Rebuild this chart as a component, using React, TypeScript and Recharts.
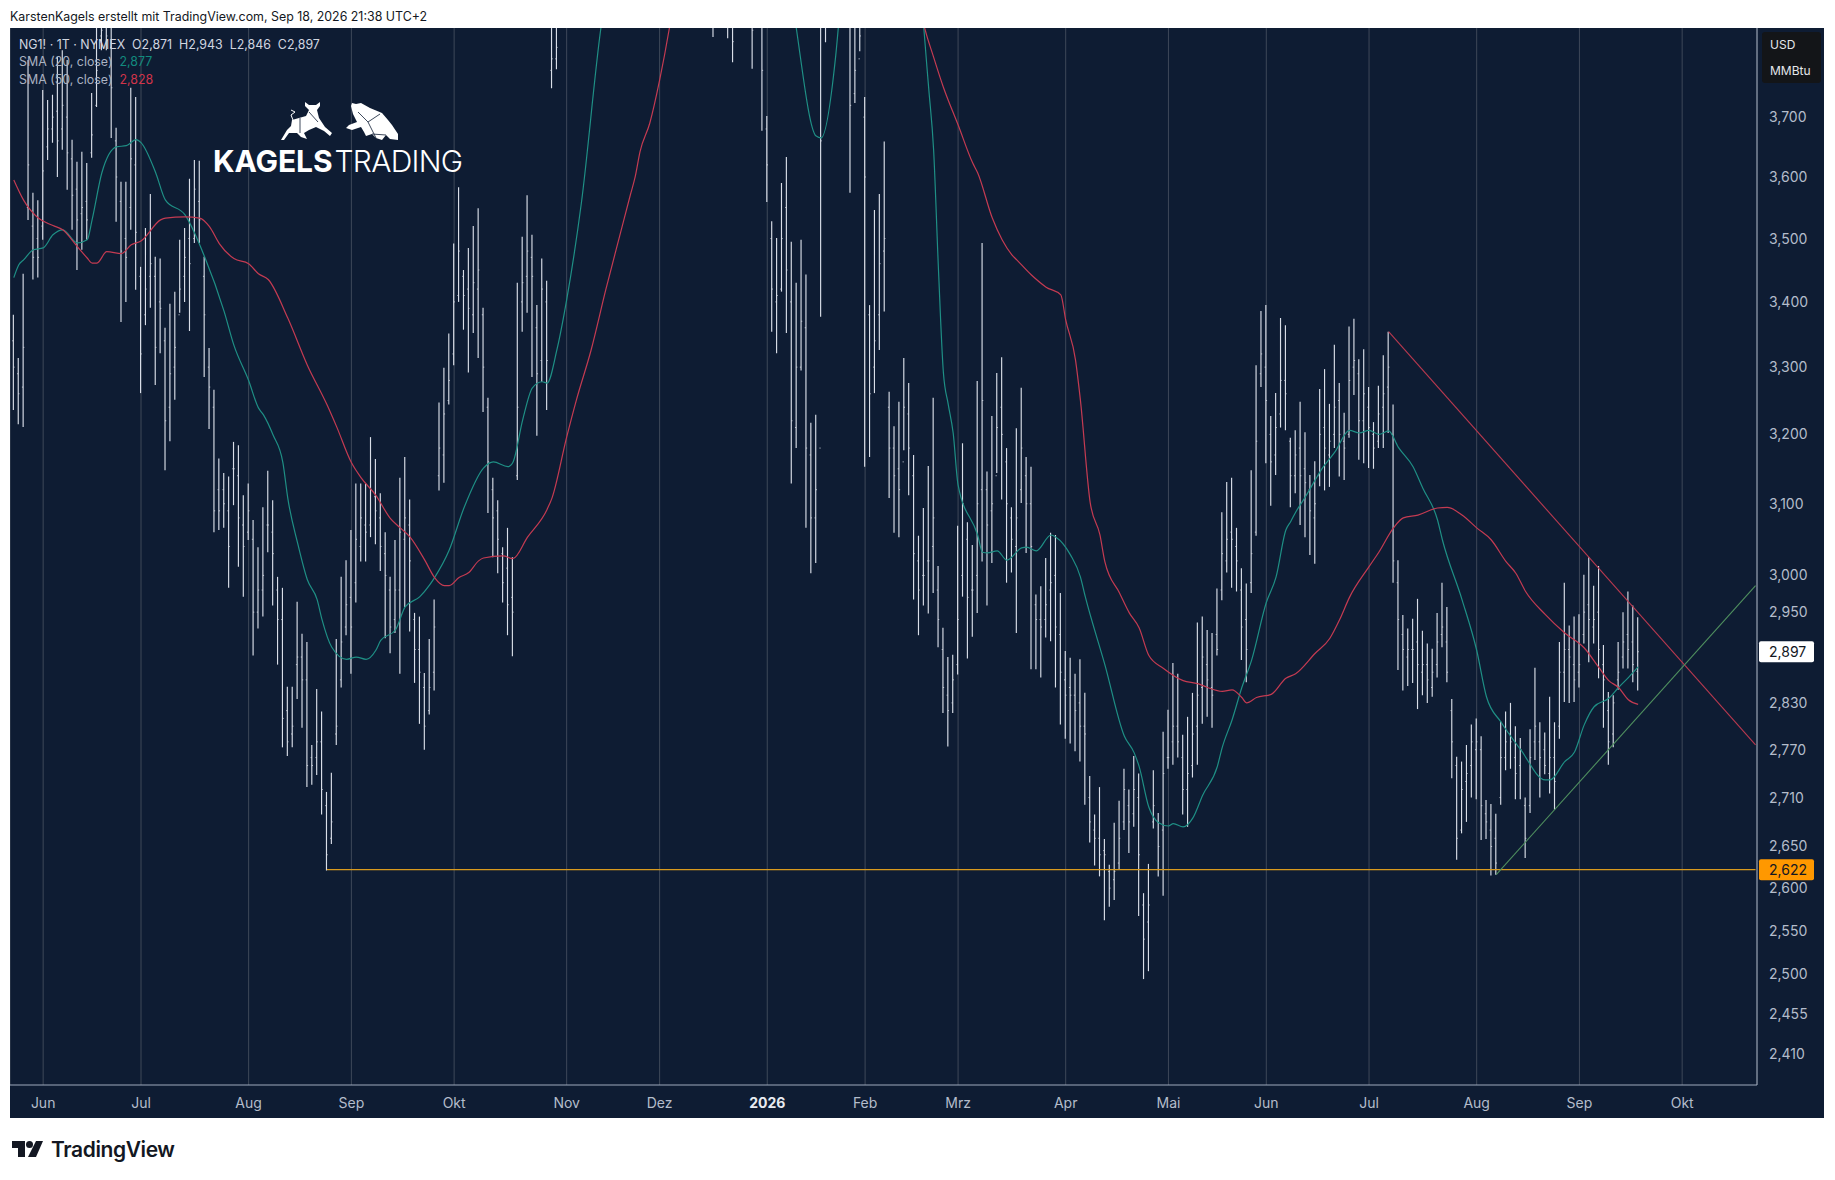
import { Bar, CartesianGrid, ComposedChart, Line, ReferenceLine, XAxis, YAxis } from "recharts";

// daily bars, one entry per session, Jun 2025 .. 18 Sep 2026
const highs = [
  3.38,3.314,3.444,3.798,3.574,3.562,3.746,3.729,3.738,3.803,
  3.815,3.798,3.662,3.625,3.642,3.623,3.741,3.868,3.876,3.885,
  3.868,3.682,3.592,3.592,3.75,3.734,3.455,3.517,3.572,3.471,
  3.468,3.36,3.397,3.416,3.498,3.517,3.597,3.628,3.627,3.471,
  3.329,3.266,3.165,3.144,3.139,3.189,3.184,3.112,3.129,3.077,
  3.039,3.095,3.147,3.105,2.998,2.983,2.851,2.851,2.964,2.921,
  2.91,2.776,2.848,2.819,2.717,2.741,2.914,2.998,3.021,3.063,
  3.129,3.129,3.129,3.196,3.164,3.115,3.06,2.998,3.049,3.137,
  3.167,3.106,2.949,2.944,2.869,2.914,2.967,3.247,3.299,3.351,
  3.492,3.583,3.45,3.485,3.52,3.549,3.391,3.254,3.137,3.105,
  3.039,3.066,3.025,3.43,3.503,3.57,3.506,3.395,3.468,3.433,
  3.868,3.876,3.98,4.02,4.05,4.12,4.16,4.22,4.28,4.26,
  4.34,4.42,4.4,4.48,4.55,4.61,4.58,4.66,4.72,4.78,
  4.85,4.91,4.88,4.96,5.02,4.94,4.86,4.71,4.58,4.42,
  4.3,4.18,4.05,3.876,3.95,3.93,3.88,3.88,3.96,3.98,
  3.95,3.89,3.95,3.9,3.702,3.528,3.501,3.59,3.633,3.495,
  3.43,3.498,3.443,3.217,3.229,3.89,3.9,3.98,3.96,3.94,
  3.93,3.88,3.88,3.88,3.734,3.395,3.546,3.572,3.659,3.263,
  3.212,3.248,3.314,3.276,3.17,3.055,3.094,3.154,3.254,3.013,
  2.929,2.89,2.893,3.069,3.187,3.074,3.042,3.279,3.493,3.146,
  3.227,3.291,3.315,3.18,3.095,3.209,3.269,3.167,3.153,2.974,
  2.985,3.024,3.059,3.056,2.976,2.898,2.889,2.868,2.887,2.843,
  2.737,2.689,2.723,2.659,2.628,2.679,2.706,2.746,2.72,2.762,
  2.74,2.594,2.629,2.744,2.691,2.793,2.821,2.882,2.868,2.789,
  2.812,2.843,2.936,2.944,2.926,2.922,2.982,3.088,3.131,3.137,
  3.066,3.01,2.989,3.148,3.303,3.386,3.395,3.227,3.261,3.375,
  3.364,3.195,3.206,3.248,3.203,3.141,3.161,3.267,3.297,3.245,
  3.334,3.276,3.232,3.362,3.374,3.312,3.327,3.27,3.218,3.272,
  3.318,3.354,3.244,3.021,2.946,2.928,2.941,2.968,2.925,2.908,
  2.901,2.949,2.99,2.957,2.835,2.761,2.755,2.776,2.802,2.81,
  2.787,2.707,2.702,2.69,2.806,2.819,2.83,2.8,2.785,2.71,
  2.796,2.876,2.805,2.792,2.838,2.805,2.91,2.99,2.932,2.944,
  2.947,3.001,3.025,2.986,3.013,2.906,2.844,2.84,2.91,2.95,
  2.978,2.959,2.943,
];
const lows = [
  3.236,3.215,3.211,3.53,3.435,3.438,3.498,3.628,3.657,3.6,
  3.645,3.579,3.514,3.45,3.482,3.498,3.632,3.717,3.815,3.815,
  3.665,3.527,3.369,3.4,3.514,3.419,3.261,3.364,3.391,3.273,
  3.321,3.148,3.19,3.251,3.383,3.4,3.355,3.493,3.493,3.285,
  3.208,3.06,3.063,3.066,2.983,3.098,3.012,2.971,3.049,2.892,
  2.928,2.944,3.032,2.959,2.88,2.773,2.762,2.773,2.835,2.798,
  2.723,2.726,2.738,2.689,2.621,2.653,2.776,2.85,2.919,2.868,
  2.963,3.019,3.019,3.053,3.043,3.006,2.915,2.895,2.922,2.868,
  2.957,2.924,2.856,2.803,2.77,2.815,2.846,3.119,3.13,3.244,
  3.303,3.4,3.357,3.292,3.352,3.314,3.233,3.087,3.025,3.003,
  2.963,2.919,2.891,3.134,3.354,3.383,3.285,3.198,3.278,3.236,
  3.749,3.782,3.88,3.93,3.96,4.01,4.06,4.12,4.17,4.14,
  4.22,4.3,4.28,4.36,4.42,4.48,4.45,4.52,4.6,4.66,
  4.72,4.78,4.74,4.82,4.85,4.72,4.66,4.5,4.38,4.24,
  4.12,4.0,3.9,3.838,3.87,3.87,3.836,3.794,3.87,3.88,
  3.87,3.783,3.88,3.677,3.559,3.354,3.321,3.416,3.352,3.129,
  3.18,3.295,3.066,3.003,3.017,3.377,3.829,3.88,3.87,3.87,
  3.86,3.574,3.724,3.813,3.153,3.167,3.261,3.326,3.385,3.108,
  3.059,3.053,3.177,3.112,2.967,2.919,2.959,2.948,2.976,2.903,
  2.817,2.774,2.817,2.867,2.971,2.888,2.917,2.949,3.019,2.959,
  3.017,3.144,3.106,2.99,3.004,2.922,3.101,3.031,2.874,2.874,
  2.863,2.916,2.911,2.85,2.802,2.784,2.778,2.768,2.755,2.701,
  2.655,2.627,2.614,2.562,2.578,2.586,2.622,2.67,2.642,2.674,
  2.567,2.494,2.503,2.672,2.614,2.591,2.746,2.751,2.76,2.689,
  2.674,2.735,2.751,2.803,2.812,2.798,2.892,2.966,3.004,2.983,
  2.978,2.886,2.857,2.976,3.055,3.27,3.158,3.097,3.141,3.21,
  3.206,3.095,3.115,3.07,3.053,3.028,3.016,3.125,3.119,3.124,
  3.18,3.139,3.134,3.195,3.258,3.163,3.158,3.151,3.15,3.18,
  3.18,3.202,2.99,2.873,2.846,2.852,2.856,2.822,2.84,2.83,
  2.838,2.863,2.903,2.857,2.734,2.634,2.666,2.68,2.71,2.708,
  2.658,2.659,2.615,2.616,2.701,2.744,2.746,2.708,2.708,2.636,
  2.691,2.757,2.71,2.739,2.715,2.695,2.784,2.831,2.83,2.831,
  2.85,2.908,2.883,2.908,2.862,2.798,2.751,2.773,2.847,2.875,
  2.875,2.857,2.846,
];
const opens = [
  3.34,3.29,3.27,3.55,3.52,3.5,3.52,3.65,3.68,3.71,
  3.68,3.7,3.63,3.58,3.54,3.56,3.64,3.72,3.84,3.86,
  3.82,3.66,3.56,3.5,3.55,3.62,3.44,3.38,3.44,3.44,
  3.4,3.34,3.24,3.3,3.38,3.44,3.5,3.5,3.56,3.44,
  3.3,3.24,3.12,3.12,3.09,3.15,3.14,3.07,3.06,3.05,
  2.95,2.98,3.07,3.06,2.98,2.94,2.82,2.79,2.88,2.89,
  2.86,2.76,2.76,2.78,2.7,2.66,2.79,2.86,2.93,2.97,
  2.99,3.04,3.07,3.07,3.11,3.08,3.03,2.98,2.94,2.98,
  3.05,3.07,2.94,2.9,2.85,2.82,2.87,3.14,3.17,3.25,
  3.32,3.41,3.44,3.42,3.38,3.42,3.38,3.24,3.12,3.09,
  3.03,3.01,2.97,3.14,3.4,3.44,3.47,3.36,3.31,3.4,
  3.78,3.8,3.9,3.94,3.99,4.03,4.09,4.14,4.2,4.22,
  4.24,4.33,4.37,4.38,4.46,4.51,4.54,4.55,4.63,4.7,
  4.76,4.82,4.85,4.86,4.92,4.9,4.78,4.68,4.52,4.4,
  4.26,4.14,4.01,3.87,3.92,3.88,3.87,3.86,3.9,3.9,
  3.93,3.88,3.9,3.88,3.68,3.5,3.4,3.42,3.55,3.4,
  3.21,3.3,3.36,3.17,3.08,3.18,3.88,3.9,3.93,3.92,
  3.9,3.86,3.74,3.8,3.7,3.38,3.3,3.38,3.48,3.24,
  3.18,3.15,3.16,3.23,3.14,3.02,3.0,3.02,3.04,2.98,
  2.9,2.84,2.83,2.88,3.0,3.05,2.98,3.0,3.12,3.12,
  3.09,3.14,3.24,3.16,3.08,3.04,3.12,3.14,3.1,2.96,
  2.94,2.94,2.98,3.0,2.92,2.86,2.85,2.84,2.83,2.8,
  2.71,2.67,2.66,2.645,2.62,2.61,2.63,2.68,2.7,2.69,
  2.71,2.58,2.56,2.68,2.68,2.67,2.76,2.78,2.8,2.76,
  2.72,2.75,2.8,2.85,2.88,2.85,2.92,2.98,3.02,3.06,
  3.04,2.98,2.94,2.99,3.06,3.29,3.3,3.2,3.17,3.23,
  3.28,3.19,3.14,3.18,3.15,3.12,3.08,3.14,3.21,3.17,
  3.2,3.25,3.19,3.2,3.3,3.29,3.22,3.24,3.2,3.19,
  3.24,3.27,3.2,2.99,2.92,2.89,2.9,2.91,2.87,2.88,
  2.85,2.88,2.92,2.91,2.82,2.75,2.67,2.73,2.75,2.77,
  2.77,2.69,2.67,2.66,2.71,2.76,2.79,2.76,2.75,2.7,
  2.7,2.78,2.78,2.77,2.74,2.76,2.8,2.87,2.9,2.88,
  2.87,2.92,2.96,2.93,2.95,2.88,2.82,2.79,2.86,2.89,
  2.92,2.91,2.871,
];
const closes = [
  3.3,3.26,3.33,3.62,3.47,3.47,3.61,3.68,3.7,3.66,
  3.72,3.64,3.57,3.53,3.55,3.53,3.67,3.78,3.85,3.84,
  3.75,3.6,3.48,3.47,3.63,3.51,3.32,3.42,3.46,3.33,
  3.39,3.22,3.29,3.33,3.42,3.47,3.46,3.58,3.53,3.38,
  3.27,3.09,3.09,3.1,3.04,3.15,3.08,3.04,3.09,2.95,
  2.98,3.0,3.07,3.03,2.94,2.81,2.78,2.8,2.89,2.86,
  2.75,2.75,2.78,2.72,2.64,2.68,2.8,2.91,2.96,2.93,
  3.05,3.08,3.06,3.12,3.09,3.04,3.0,2.93,2.98,3.06,
  3.08,3.02,2.9,2.87,2.8,2.85,2.93,3.18,3.23,3.28,
  3.4,3.48,3.41,3.39,3.43,3.45,3.3,3.16,3.08,3.05,
  2.99,2.96,2.95,3.24,3.43,3.48,3.44,3.29,3.42,3.31,
  3.8,3.82,3.93,3.98,4.01,4.07,4.11,4.18,4.22,4.2,
  4.28,4.36,4.34,4.42,4.48,4.55,4.5,4.6,4.66,4.72,
  4.79,4.84,4.8,4.9,4.93,4.8,4.74,4.58,4.46,4.32,
  4.2,4.07,3.97,3.86,3.9,3.9,3.86,3.83,3.91,3.93,
  3.91,3.85,3.91,3.78,3.62,3.42,3.41,3.5,3.45,3.22,
  3.3,3.37,3.18,3.08,3.12,3.66,3.86,3.92,3.91,3.9,
  3.89,3.72,3.78,3.84,3.6,3.26,3.34,3.46,3.5,3.18,
  3.14,3.12,3.24,3.18,3.03,2.98,3.0,3.02,3.08,2.94,
  2.85,2.82,2.86,2.94,3.1,2.97,2.98,3.1,3.25,3.07,
  3.1,3.21,3.2,3.1,3.05,3.08,3.18,3.1,3.04,2.94,
  2.93,2.96,2.99,2.93,2.87,2.84,2.84,2.82,2.8,2.79,
  2.68,2.66,2.64,2.64,2.6,2.62,2.66,2.72,2.68,2.72,
  2.64,2.54,2.58,2.7,2.65,2.74,2.76,2.8,2.78,2.72,
  2.74,2.79,2.84,2.89,2.86,2.84,2.9,3.03,3.05,3.05,
  3.02,2.93,2.9,3.03,3.19,3.32,3.25,3.16,3.21,3.28,
  3.26,3.14,3.17,3.14,3.13,3.09,3.1,3.2,3.18,3.19,
  3.24,3.2,3.18,3.28,3.31,3.22,3.26,3.21,3.18,3.23,
  3.26,3.3,3.02,2.94,2.9,2.9,2.9,2.88,2.88,2.86,
  2.87,2.91,2.93,2.87,2.78,2.66,2.72,2.74,2.78,2.78,
  2.7,2.68,2.65,2.63,2.76,2.78,2.78,2.74,2.77,2.66,
  2.76,2.8,2.76,2.75,2.76,2.73,2.87,2.9,2.89,2.86,
  2.88,2.95,2.94,2.94,2.9,2.86,2.78,2.83,2.87,2.91,
  2.9,2.88,2.897,
];

// moving averages at their bends (bar number + price)
const sma20Bars = [
  0,1,2,4,6,8,10,13,15,16,18,21,23,25,26,29,31,35,39,43,45,48,50,51,53,55,56,58,60,62,63,65,68,70,72,74,75,78,80,83,85,86,89,92,96,98,101,102,104,106,108,109,111,113,116,120,
  124,128,132,136,140,144,148,152,156,160,164,165,168,169,172,176,180,184,186,187,188,189,190,191,192,193,197,198,199,201,203,206,207,209,212,213,216,218,219,223,227,229,230,232,234,236,237,239,241,243,246,247,249,251,253,
  256,258,260,261,262,264,266,267,270,273,275,277,279,281,283,286,288,291,292,296,299,301,304,308,313,314,317,319,321,323,326,328,330,332,
];
const sma20Values = [
  3.438,3.458,3.466,3.482,3.485,3.506,3.514,3.493,3.498,3.53,3.607,3.65,3.652,3.662,3.657,3.607,3.562,3.538,3.471,3.385,3.333,3.28,3.239,3.229,3.199,3.159,3.108,3.045,2.994,2.967,2.94,2.903,2.887,2.89,2.887,2.899,2.912,2.926,2.957,2.971,2.987,2.997,3.035,3.094,3.151,3.16,3.153,3.159,3.221,3.269,3.278,3.276,3.326,3.403,3.557,3.854,
  4.05,4.28,4.52,4.7,4.82,4.8,4.65,4.42,4.15,3.85,3.668,3.665,3.806,3.9,4.1,4.35,4.45,4.15,3.854,3.749,3.645,3.45,3.292,3.244,3.202,3.127,3.056,3.032,3.031,3.034,3.021,3.038,3.039,3.034,3.056,3.053,3.028,2.998,2.971,2.88,2.787,2.766,2.749,2.698,2.679,2.675,2.678,2.674,2.685,2.713,2.749,2.773,2.808,2.85,2.886,
  2.963,2.998,3.063,3.075,3.088,3.11,3.134,3.146,3.174,3.206,3.202,3.206,3.2,3.205,3.181,3.153,3.122,3.077,3.049,2.967,2.899,2.838,2.805,2.77,2.732,2.732,2.755,2.767,2.802,2.825,2.836,2.85,2.863,2.877,
];
const sma50Bars = [
  0,2,5,8,10,13,15,16,17,19,22,24,26,30,31,35,38,40,42,45,48,50,52,56,60,64,66,69,71,74,77,79,81,84,86,88,89,91,93,95,96,100,102,105,109,110,113,115,118,121,124,126,127,128,130,132,134,
  138,142,146,150,155,160,165,170,175,180,184,186,188,190,193,196,197,200,202,204,205,208,211,214,215,217,218,220,222,223,226,228,230,232,235,239,242,244,247,249,251,252,254,257,260,262,266,269,271,273,277,279,282,284,287,291,293,296,299,302,305,307,309,313,317,321,324,326,328,330,332,
];
const sma50Values = [
  3.595,3.562,3.533,3.521,3.514,3.487,3.469,3.461,3.461,3.479,3.476,3.49,3.496,3.53,3.533,3.535,3.533,3.519,3.492,3.468,3.46,3.444,3.435,3.375,3.303,3.244,3.211,3.159,3.137,3.112,3.079,3.066,3.053,3.021,2.997,2.986,2.986,2.997,3.004,3.02,3.024,3.027,3.023,3.053,3.092,3.108,3.196,3.251,3.326,3.419,3.509,3.57,3.6,3.642,3.69,3.763,3.854,
  4.1,4.3,4.42,4.5,4.53,4.5,4.45,4.4,4.3,4.15,3.95,3.86,3.803,3.751,3.687,3.623,3.607,3.533,3.498,3.474,3.466,3.442,3.423,3.411,3.372,3.311,3.251,3.102,3.056,3.019,2.976,2.949,2.929,2.892,2.875,2.859,2.855,2.85,2.845,2.847,2.837,2.83,2.837,2.841,2.862,2.868,2.895,2.915,2.94,2.97,3.012,3.032,3.066,3.08,3.084,3.094,3.095,3.084,3.066,3.049,3.019,3.003,2.978,2.947,2.922,2.902,2.876,2.859,2.85,2.834,2.828,
];

// drawn lines: [bar, price] at both ends
const supportLine = [[64, 2.622], [356, 2.622]];
const fallingLine = [[281, 3.354], [356, 2.776]];
const risingLine = [[303, 2.616], [356, 2.986]];

const priceTicks = [3.7,3.6,3.5,3.4,3.3,3.2,3.1,3.0,2.95,2.897,2.83,2.77,2.71,2.65,2.622,2.6,2.55,2.5,2.455,2.41];
const monthTicks = [6,26,48,69,90,113,132,154,174,193,215,236,256,277,299,320,341];
const monthLabels = ["Jun","Jul","Aug","Sep","Okt","Nov","Dez","2026","Feb","Mrz","Apr","Mai","Jun","Jul","Aug","Sep","Okt"];
const slotCount = 357;

const FONT = "Inter, 'Noto Sans', sans-serif";

const sma20ByBar = new Map(sma20Bars.map((b, k) => [b, sma20Values[k]]));
const sma50ByBar = new Map(sma50Bars.map((b, k) => [b, sma50Values[k]]));
const table = Array.from({ length: slotCount }, (_, i) => ({
  i,
  range: i < highs.length ? [lows[i], highs[i]] : null,
  open: opens[i],
  close: closes[i],
  sma20: sma20ByBar.get(i) ?? null,
  sma50: sma50ByBar.get(i) ?? null,
}));

function OhlcBar(props: any) {
  const { x, y, width, height, payload } = props;
  if (!payload || !payload.range) return null;
  const cx = x + width / 2;
  const [low, high] = payload.range;
  const span = Math.log(high) - Math.log(low);
  const yOpen = y + (height * (Math.log(high) - Math.log(payload.open))) / span;
  const yClose = y + (height * (Math.log(high) - Math.log(payload.close))) / span;
  return (
    <g stroke="#d9dee8" strokeWidth={1.15}>
      <line x1={cx} x2={cx} y1={y} y2={y + height} />
      <line x1={cx - 1.2} x2={cx} y1={yOpen} y2={yOpen} strokeWidth={0.8} />
      <line x1={cx} x2={cx + 1.2} y1={yClose} y2={yClose} strokeWidth={0.8} />
    </g>
  );
}

function MonthTick(props: any) {
  const { x, y, payload } = props;
  const label = monthLabels[monthTicks.indexOf(payload.value)];
  const isYear = label === "2026";
  return (
    <text x={x} y={y + 5} textAnchor="middle" fontFamily={FONT} fontSize={14}
      fontWeight={isYear ? 700 : 400} fill={isYear ? "#e8ebf1" : "#b4bccb"}>
      {label}
    </text>
  );
}

function PriceTick(props: any) {
  const { x, y, payload } = props;
  const text = payload.value.toFixed(3).replace(".", ",");
  const badge = payload.value === 2.897 ? "#ffffff" : payload.value === 2.622 ? "#ff9800" : null;
  return (
    <g>
      {badge && <rect x={x - 4} y={y - 10.5} width={55} height={21} rx={2} fill={badge} />}
      <text x={x + 6} y={y + 5} fontFamily={FONT} fontSize={14} fill={badge ? "#131722" : "#b4bccb"}>
        {text}
      </text>
    </g>
  );
}

const toSegment = (line: number[][]) => line.map(([x, y]) => ({ x, y }));

function abs(left: number, top: number, extra: any = {}) {
  return { position: "absolute", left, top, whiteSpace: "pre", fontFamily: FONT, ...extra } as any;
}

export default function App() {
  return (
    <div style={{ position: "absolute", left: 0, top: 0, width: 1835, height: 1180, background: "#fff", overflow: "hidden" }}>
      <div style={abs(10, 9, { fontSize: 12.4, color: "#131722" })}>
        KarstenKagels erstellt mit TradingView.com, Sep 18, 2026 21:38 UTC+2
      </div>

      <div style={{ position: "absolute", left: 10, top: 28, background: "#0e1c33" }}>
        <ComposedChart width={1814} height={1090} data={table} margin={{ top: 0, right: 0, bottom: 0, left: 0 }} barCategoryGap={0}>
          <CartesianGrid vertical horizontal={false} stroke="#3e4859" strokeWidth={1} />
          <XAxis
            dataKey="i"
            type="category"
            ticks={monthTicks}
            interval={0}
            height={33}
            padding={{ left: 1.35, right: -1 }}
            tick={<MonthTick />}
            tickLine={false}
            tickMargin={12}
            axisLine={{ stroke: "#9ea9bd" }}
          />
          <YAxis
            orientation="right"
            scale="log"
            domain={[2.376, 3.854]}
            allowDataOverflow
            ticks={priceTicks}
            interval={0}
            width={67}
            tick={<PriceTick />}
            tickLine={false}
            tickMargin={0}
            axisLine={{ stroke: "#9ea9bd" }}
          />
          <ReferenceLine segment={toSegment(supportLine)} stroke="#d99a1e" strokeWidth={1.3} ifOverflow="visible" />
          <ReferenceLine segment={toSegment(fallingLine)} stroke="#b9394f" strokeWidth={1.1} ifOverflow="visible" />
          <ReferenceLine segment={toSegment(risingLine)} stroke="#4f8f5f" strokeWidth={1.1} ifOverflow="visible" />
          <Bar dataKey="range" barSize={2} shape={<OhlcBar />} isAnimationActive={false} />
          <Line dataKey="sma20" type="monotone" stroke="#1f8f85" strokeWidth={1.2} dot={false} connectNulls isAnimationActive={false} />
          <Line dataKey="sma50" type="monotone" stroke="#c43b52" strokeWidth={1.2} dot={false} connectNulls isAnimationActive={false} />
        </ComposedChart>
      </div>

      <div style={abs(19, 37, { fontSize: 12.4, color: "#d1d6e0" })}>{"NG1! · 1T · NYMEX  O2,871  H2,943  L2,846  C2,897"}</div>
      <div style={abs(19, 54, { fontSize: 12.4, color: "#aab2c2" })}>
        {"SMA (20, close)  "}<span style={{ color: "#128a7e" }}>2,877</span>
      </div>
      <div style={abs(19, 71.5, { fontSize: 12.4, color: "#aab2c2" })}>
        {"SMA (50, close)  "}<span style={{ color: "#d0344a" }}>2,828</span>
      </div>

      <svg style={{ position: "absolute", left: 0, top: 0 }} width={500} height={180}>
        <path fill="#fff" d="M281 140 L287 130 L291 126 L292 120 L299 118 L306 116 L309 110 L305 106 L305 102 L309 105 L316 105 L320 102 L320 106 L317 110 L319 118 L325 127 L332 133 L330 136 L324 131 L316 127 L309 130 L304 133 L307 139 L301 137 L297 133 L289 133 L284 140 Z" />
        <path fill="none" stroke="#fff" strokeWidth={1} d="M293 120 L291 115 L295 112 L291 110" />
        <path fill="none" stroke="#0e1c33" strokeWidth={0.8} d="M300 118 L300 133 M309 112 L318 122" />
        <path fill="#fff" d="M346 128 L349 125 L357 122 L353 114 L351 106 L352 103 L356 104 L361 103 L370 108 L382 113 L388 120 L392 125 L398 134 L398 140 L390 139 L386 135 L382 140 L376 138 L372 134 L366 136 L364 132 L361 127 L352 130 Z" />
        <path fill="none" stroke="#0e1c33" strokeWidth={0.8} d="M358 112 L368 122 L380 114 M368 122 L376 138 M372 134 L386 135" />
      </svg>
      <div style={abs(213, 143, { fontSize: 30, color: "#fff", lineHeight: "36px", letterSpacing: -0.1 })}>
        <span style={{ fontWeight: 700 }}>KAGELS</span>
        <span style={{ fontWeight: 300, letterSpacing: -0.7, marginLeft: 2 }}>TRADING</span>
      </div>

      <div style={{ position: "absolute", left: 1762, top: 32, width: 59, height: 51, background: "#131518", borderRadius: 3 }} />
      <div style={abs(1770, 37, { fontSize: 12, color: "#e4e6ea" })}>USD</div>
      <div style={abs(1770, 63, { fontSize: 12, color: "#e4e6ea" })}>MMBtu</div>

      <svg style={{ position: "absolute", left: 12, top: 1141 }} width={32} height={17}>
        <path fill="#131722" d="M0 0 H13 V16 H6 V7 H0 Z" />
        <circle cx={17.5} cy={3.5} r={3.5} fill="#131722" />
        <path fill="#131722" d="M24 0 H31 L24 16 H16 Z" />
      </svg>
      <div style={abs(51, 1137, { fontSize: 21, fontWeight: 600, color: "#131722", letterSpacing: -0.4 })}>TradingView</div>
    </div>
  );
}
